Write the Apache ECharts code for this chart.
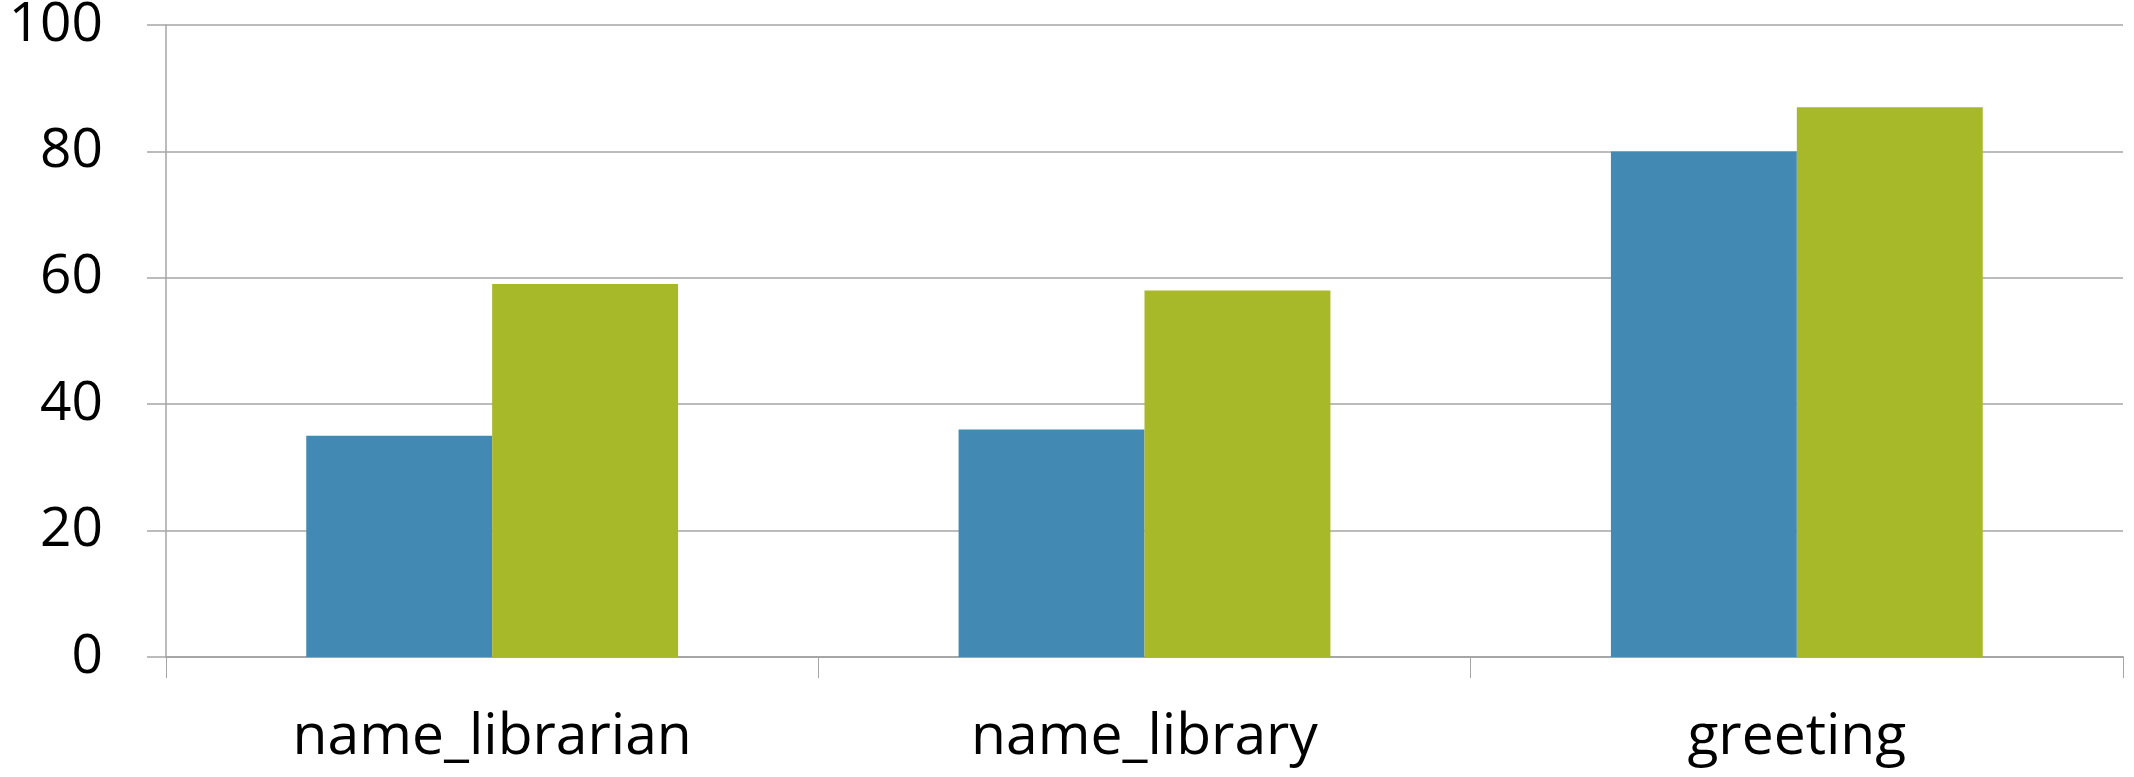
<!DOCTYPE html>
<html>
<head>
<meta charset="utf-8">
<script src="https://cdn.jsdelivr.net/npm/echarts@6/dist/echarts.min.js"></script>
<style>
html,body{margin:0;padding:0;background:#fff;}
#chart{width:2134px;height:777px;}
</style>
</head>
<body>
<div id="chart"></div>
<script>
var categories = ['name_librarian', 'name_library', 'greeting'];
var seriesA = [35, 36, 80];
var seriesB = [59, 58, 87];
var yTicks = [0, 20, 40, 60, 80, 100];

var chart = echarts.init(document.getElementById('chart'), null, {renderer: 'canvas'});
var font = '"Open Sans", Lato, sans-serif';
chart.setOption({
  animation: false,
  backgroundColor: '#ffffff',
  grid: {left: 166, right: 11, top: 25, bottom: 120, containLabel: false, outerBoundsMode: 'none'},
  xAxis: {
    type: 'category',
    data: categories,
    axisLine: {show: true, lineStyle: {color: '#a6a6a6', width: 2}},
    axisTick: {show: true, length: 21, lineStyle: {color: '#a6a6a6', width: 1}},
    axisLabel: {color: '#000', fontFamily: font, fontSize: 57, margin: 52},
    splitLine: {show: false}
  },
  yAxis: {
    type: 'value',
    min: yTicks[0],
    max: yTicks[yTicks.length - 1],
    interval: 20,
    axisLine: {show: true, lineStyle: {color: '#a6a6a6', width: 1.5}},
    axisTick: {show: true, length: 19, lineStyle: {color: '#a6a6a6', width: 1.5}},
    axisLabel: {color: '#000', fontFamily: font, fontSize: 55, margin: 63},
    splitLine: {show: true, lineStyle: {color: '#a6a6a6', width: 1.5}}
  },
  series: [
    {type: 'bar', data: seriesA, barGap: '0%', barCategoryGap: '43%',
     itemStyle: {color: '#428ab4'}},
    {type: 'bar', data: seriesB, barGap: '0%', barCategoryGap: '43%',
     itemStyle: {color: '#a7b829'}}
  ]
});
</script>
</body>
</html>
